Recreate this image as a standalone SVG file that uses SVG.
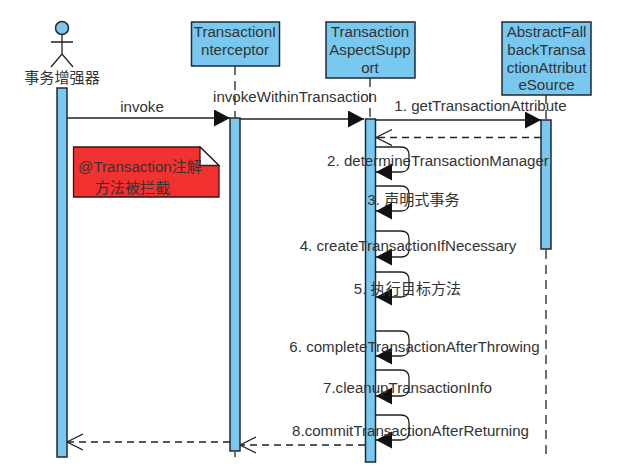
<svg xmlns="http://www.w3.org/2000/svg" width="623" height="475" viewBox="0 0 623 475">
<defs>
<marker id="tri" markerUnits="userSpaceOnUse" markerWidth="18" markerHeight="18" refX="16" refY="8.5" orient="auto"><path d="M0,0L16,8.500L0,17Z" fill="#111"/></marker>
<marker id="open" markerUnits="userSpaceOnUse" markerWidth="18" markerHeight="18" refX="16" refY="8.500" orient="auto"><path d="M0,0.500L16,8.500L0,16.500" fill="none" stroke="#222" stroke-width="1.300"/></marker>
</defs>
<style>
text{font-family:"Liberation Sans","Noto Sans CJK SC",sans-serif;font-size:15.100px;fill:#333;text-anchor:middle}
.box{fill:#78c8f0;stroke:#1f2a33;stroke-width:1.500}
.life{stroke:#222;stroke-width:1.300;stroke-dasharray:9 6;fill:none}
.msg{stroke:#222;stroke-width:1.300;fill:none}
.ret{stroke:#222;stroke-width:1.300;fill:none;stroke-dasharray:7 5;marker-end:url(#open)}
.self{stroke:#222;stroke-width:1.300;fill:none;marker-end:url(#tri)}
</style>
<rect width="623" height="475" fill="#fff"/>
<g id="connectors">
<path class="life" d="M235 66V118M370 78V119M546 95V120M546 250V456M235 452V457"/>
<path class="msg" marker-end="url(#tri)" d="M67 118H230"/>
<path class="msg" marker-end="url(#tri)" d="M240 119H364"/>
<path class="msg" marker-end="url(#tri)" d="M376 120H541"/>
<path class="ret" d="M541 137.500H376"/>
<path class="ret" d="M365 445H240"/>
<path class="ret" d="M230 442H67"/>
</g>
<g id="actor">
<circle class="box" cx="62" cy="28" r="6.500"/>
<path d="M62 35V54M51 42H73M51 67L62 54L73 67" fill="none" stroke="#222" stroke-width="1.300"/>
<text x="62" y="83">事务增强器</text>
<rect class="box" x="57" y="88" width="10" height="369"/>
</g>
<g id="interceptor">
<rect class="box" x="191.500" y="22" width="88" height="44"/>
<text x="235" y="37">TransactionI</text><text x="235" y="55">nterceptor</text>
<rect class="box" x="230" y="118" width="10" height="333"/>
</g>
<g id="aspect">
<rect class="box" x="326" y="22" width="89" height="56"/>
<text x="370" y="37">Transaction</text><text x="370" y="55">AspectSupp</text><text x="370" y="73">ort</text>
<rect class="box" x="365.500" y="119" width="10" height="343"/>
</g>
<g id="source">
<rect class="box" x="502" y="22" width="89" height="73"/>
<text x="546.500" y="37">AbstractFall</text><text x="546.500" y="55">backTransa</text><text x="546.500" y="73">ctionAttribut</text><text x="546.500" y="90">eSource</text>
<rect class="box" x="541" y="120" width="10" height="129"/>
</g>
<g id="note">
<path d="M73.500 147H200L219 165.500V197H73.500Z" fill="#f33131" stroke="#3a1212" stroke-width="1.300"/>
<path d="M200 147V165.500H219Z" fill="#fff" stroke="#222" stroke-width="1.300"/>
<text x="140" y="172">@Transaction注解</text>
<text x="132.500" y="193">方法被拦截</text>
</g>
<g id="self-messages">
<path class="self" d="M375 147H401Q409 147 409 155V164Q409 172 401 172H376"/>
<path class="self" d="M375 186H401Q409 186 409 194V203Q409 211 401 211H376"/>
<path class="self" d="M375 231H401Q409 231 409 239V249Q409 257 401 257H376"/>
<path class="self" d="M375 272H401Q409 272 409 280V289Q409 297 401 297H376"/>
<path class="self" d="M375 331H401Q409 331 409 339V348Q409 356 401 356H376"/>
<path class="self" d="M375 370H401Q409 370 409 378V388Q409 396 401 396H376"/>
<path class="self" d="M375 415H401Q409 415 409 423V432Q409 440 401 440H376"/>
</g>
<g id="labels">
<text x="142" y="112">invoke</text>
<text x="295" y="102">invokeWithinTransaction</text>
<text x="480.500" y="111">1. getTransactionAttribute</text>
<text x="438" y="166">2. determineTransactionManager</text>
<text x="413.500" y="205">3. 声明式事务</text>
<text x="408" y="251">4. createTransactionIfNecessary</text>
<text x="407.500" y="294">5. 执行目标方法</text>
<text x="414.500" y="352">6. completeTransactionAfterThrowing</text>
<text x="407.500" y="393">7.cleanupTransactionInfo</text>
<text x="410.500" y="436">8.commitTransactionAfterReturning</text>
</g>
</svg>
